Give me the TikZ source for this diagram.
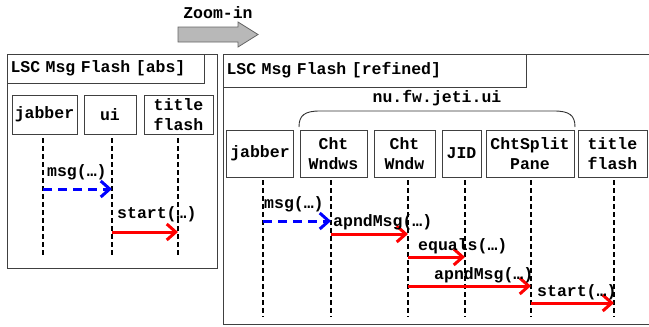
\documentclass[tikz,border=0pt]{standalone}
\usepackage{fontspec}
\setmainfont{Liberation Mono}
\usetikzlibrary{arrows.meta}
\begin{document}
\begin{tikzpicture}[x=1pt,y=-1pt,
  txt/.style={font=\fontsize{16.5}{20}\selectfont\bfseries, inner sep=0pt},
  box/.style={draw=black!75, line width=0.9pt, txt, align=center},
  frame/.style={draw=black!75, line width=1pt},
  life/.style={line width=1.6pt, dash pattern=on 5pt off 3pt},
  callred/.style={draw=red, line width=3pt, -{Straight Barb[length=9pt,width=16pt,line width=3pt]}},
  callblue/.style={draw=blue, line width=3pt, dash pattern=on 9pt off 6pt, -{Straight Barb[length=9pt,width=16pt,line width=3pt]}},
  lbl/.style={txt, anchor=west}]
\useasboundingbox (0,0) rectangle (649,327);
% zoom-in arrow
\node[txt] (zl) at (218,13) {Zoom-in};
\draw[fill=black!28, draw=black!60, line width=0.8pt] (178,27) -- (238,27) -- (238,22) -- (258,34.5) -- (238,47) -- (238,42) -- (178,42) -- cycle;
% left frame
\draw[frame] (7,54) rectangle (217,268);
\node[box, minimum width=197pt, minimum height=29pt, text width=190pt, align=left] (lt) at (105.5,68.5) {LSC Msg Flash [abs]};
\node[box, minimum width=65pt, minimum height=39pt] (lj) at (44.5,114.5) {jabber};
\node[box, minimum width=52pt, minimum height=39pt] (lu) at (110,114.5) {ui};
\node[box, minimum width=69pt, minimum height=39pt] (lf) at (178.5,114.5) {title\\flash};
\coordinate (ljt) at (43,138); \coordinate (ljb) at (43,257);
\coordinate (lut) at (112,138); \coordinate (lub) at (112,257);
\coordinate (lft) at (178,138); \coordinate (lfb) at (178,257);
\draw[life] (ljt) -- (ljb);
\draw[life] (lut) -- (lub);
\draw[life] (lft) -- (lfb);
\draw[callblue] (ljt |- 0,189) -- (lut |- 0,189);
\node[lbl] (lm) at (47,172) {msg(…)};
\draw[callred] (lut |- 0,232) -- (lft |- 0,232);
\node[lbl] (ls) at (117,214) {start(…)};
% right frame
\draw[frame] (651,54) -- (223,54) -- (223,324) -- (651,324);
\node[box, minimum width=303pt, minimum height=33pt, text width=296pt, align=left] (rt) at (374.5,70.5) {LSC Msg Flash [refined]};
\draw[draw=black!80, line width=0.9pt] (299,127) .. controls (299,115) and (305,111) .. (320,111) -- (554,111) .. controls (569,111) and (575,115) .. (575,127);
\node[txt] (pk) at (437,98) {nu.fw.jeti.ui};
\node[box, minimum width=67pt, minimum height=47pt] (rj) at (260,153.5) {jabber};
\node[box, minimum width=67pt, minimum height=47pt] (rws) at (333.5,153.5) {Cht\\Wndws};
\node[box, minimum width=61pt, minimum height=47pt] (rw) at (404.5,153.5) {Cht\\Wndw};
\node[box, minimum width=39pt, minimum height=47pt] (rid) at (461.5,153.5) {JID};
\node[box, minimum width=88pt, minimum height=47pt] (rsp) at (530,153.5) {ChtSplit\\Pane};
\node[box, minimum width=69pt, minimum height=47pt] (rf) at (612.5,153.5) {title\\flash};
\foreach \n/\x in {rjl/263, rwsl/331, rwl/408, ridl/465, rspl/531, rfl/614} {
  \coordinate (\n t) at (\x,180);
  \coordinate (\n b) at (\x,317);
  \draw[life] (\n t) -- (\n b);
}
\draw[callblue] (rjlt |- 0,221) -- (rwslt |- 0,221);
\node[lbl] (rm1) at (264,204) {msg(…)};
\draw[callred] (rwslt |- 0,234) -- (rwlt |- 0,234);
\node[lbl] (rm2) at (333,222) {apndMsg(…)};
\draw[callred] (rwlt |- 0,257) -- (ridlt |- 0,257);
\node[lbl] (rm3) at (418,246) {equals(…)};
\draw[callred] (rwlt |- 0,286) -- (rsplt |- 0,286);
\node[lbl] (rm4) at (434,275) {apndMsg(…)};
\draw[callred] (rsplt |- 0,303) -- (rflt |- 0,303);
\node[lbl] (rm5) at (537,292) {start(…)};
\end{tikzpicture}
\end{document}
